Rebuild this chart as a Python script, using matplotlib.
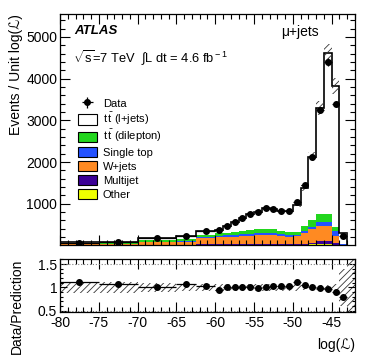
import matplotlib
matplotlib.use("Agg")
import matplotlib.pyplot as plt
import numpy as np
from matplotlib.ticker import MultipleLocator, FixedLocator, FuncFormatter
from matplotlib.patches import Rectangle
from matplotlib.legend_handler import HandlerPatch

plt.rcParams['font.family'] = ['Liberation Sans', 'DejaVu Sans']
plt.rcParams['hatch.linewidth'] = 0.6
plt.rcParams['axes.unicode_minus'] = False
plt.rcParams['mathtext.fontset'] = 'custom'
plt.rcParams['mathtext.rm'] = 'Liberation Sans'

# bin edges of log(L)
edges = [-80, -75, -70, -65, -62.5, -60, -59, -58, -57, -56, -55, -54, -53, -52,
         -51, -50, -49, -48, -47, -46, -45, -44, -43]

# data, events per unit log(L)
data = [65, 90, 185, 225, 355, 360, 475, 560, 655, 750, 800, 890, 880, 835,
        830, 1040, 1455, 2117, 3250, 4404, 3385, 235]

# stack components (events per unit log(L))
other = [8, 8, 10, 12, 15, 15, 15, 16, 16, 17, 17, 17, 17, 17, 17, 18, 20, 22, 25, 25, 20, 5]
multijet = [4, 4, 5, 6, 7, 7, 7, 8, 8, 9, 9, 9, 9, 9, 9, 10, 15, 38, 70, 70, 30, 5]
wjets = [20, 25, 60, 72, 158, 168, 178, 186, 201, 209, 214, 219, 214, 199, 184, 187, 265, 335, 362, 362, 168, 10]
singletop = [5, 6, 15, 15, 23, 35, 40, 40, 40, 45, 50, 50, 50, 45, 45, 40, 54, 48, 113, 113, 119, 10]
dilepton = [10, 12, 45, 50, 55, 65, 65, 70, 80, 85, 95, 100, 95, 85, 75, 65, 120, 157, 190, 190, 106, 10]
ljets = [28, 35, 45, 70, 87, 90, 170, 240, 310, 385, 415, 495, 495, 480, 485, 640, 909, 1530, 2540, 3845, 3380, 260]
# relative uncertainty on the prediction (main panel)
pred_unc = [0.05] * 22

# ratio panel
ratio = [1.12, 1.08, 1.01, 1.08, 1.04, 0.94, 1.0, 1.0, 1.0, 1.0, 0.98, 1.01, 1.04, 1.04,
         1.04, 1.12, 1.06, 1.0, 0.99, 0.97, 0.89, 0.80]
ratio_err = [0.07, 0.04, 0.03, 0.02, 0.02, 0.02, 0.02, 0.02, 0.02, 0.02, 0.02, 0.02, 0.02,
             0.02, 0.02, 0.02, 0.02, 0.02, 0.02, 0.02, 0.02, 0.03]
band_edges = edges + [-42]
band = [0.12, 0.12, 0.1, 0.08, 0.08, 0.08, 0.08, 0.08, 0.08, 0.08, 0.08, 0.08, 0.08, 0.08,
        0.08, 0.07, 0.06, 0.06, 0.06, 0.055, 0.08, 0.4, 1.5]

tt = r"t$\,\bar{\rm t}$"
names = ["Other", "Multijet", "W+jets", "Single top", tt + " (dilepton)", tt + " (l+jets)"]
colors = ["#eeff00", "#3b0096", "#ff8a22", "#2452ff", "#22d61e", "white"]

edges = np.array(edges)
centers = 0.5 * (edges[:-1] + edges[1:])
halfw = 0.5 * np.diff(edges)
comps = [np.array(c, float) for c in (other, multijet, wjets, singletop, dilepton, ljets)]
total = np.sum(comps, axis=0)
data = np.array(data, float)
ratio = np.array(ratio)
ratio_err = np.array(ratio_err)


def small_box(legend, orig_handle, xdescent, ydescent, width, height, fontsize):
    h = 0.8 * height
    return Rectangle((-xdescent, -ydescent + 0.5 * (height - h)), width, h)


fig = plt.figure(figsize=(3.74, 3.63), dpi=100)
ax = fig.add_axes([60 / 374, 118 / 363, 295 / 374, 231 / 363])
rx = fig.add_axes([60 / 374, 51 / 363, 295 / 374, 53 / 363])

bottom = np.zeros(len(total))
handles = []
for c, name, col in zip(comps, names, colors):
    ax.stairs(bottom + c, edges, baseline=bottom, fill=True, color=col, lw=0)
    handles.append(Rectangle((0, 0), 1, 1, fc=col, ec='black', lw=0.8))
    bottom = bottom + c
ax.stairs(total, edges, baseline=0, color='black', lw=1.2)

bh = total * np.array(pred_unc)
ax.bar(centers, 2 * bh, width=np.diff(edges), bottom=total - bh, fill=False, lw=0,
       hatch='/////', edgecolor='#333333')

dh = ax.errorbar(centers, data, yerr=data * ratio_err / ratio, xerr=halfw, fmt='o', color='black',
                 ms=4, lw=0.9, capsize=0)

leg = ax.legend([dh] + handles[::-1], ['Data'] + names[::-1], loc='upper left',
                bbox_to_anchor=(0.06, 0.64), frameon=False, fontsize=8, handlelength=1.75,
                handleheight=1.4, labelspacing=0.1, borderaxespad=0.0, handletextpad=0.5,
                borderpad=0.0, handler_map={Rectangle: HandlerPatch(patch_func=small_box)})

ax.set_xlim(-80, -42)
ax.set_ylim(10, 5550)
ax.yaxis.set_major_locator(FixedLocator([1000, 2000, 3000, 4000, 5000]))
ax.yaxis.set_minor_locator(MultipleLocator(200))
ax.xaxis.set_major_locator(MultipleLocator(5))
ax.xaxis.set_minor_locator(MultipleLocator(1))
ax.tick_params(labelbottom=False)
ax.set_ylabel("Events / Unit log(ℒ)", fontsize=10, loc='top', labelpad=2)

ax.text(0.05, 0.925, "ATLAS", transform=ax.transAxes, fontsize=9.5, fontweight='bold',
        fontstyle='italic', va='center')
ax.text(0.045, 0.81, r"$\sqrt{\rm s}$=7 TeV  $\int$L dt = 4.6 fb$^{\rm -1}$", transform=ax.transAxes,
        fontsize=9.3, va='center')
ax.text(0.75, 0.92, "μ+jets", transform=ax.transAxes, fontsize=10, va='center')

# ratio panel
bedges = np.array(band_edges)
bc = 0.5 * (bedges[:-1] + bedges[1:])
rx.bar(bc, 2 * np.array(band), width=np.diff(bedges), bottom=1 - np.array(band), fill=False, lw=0,
       hatch='/////', edgecolor='#333333')
rx.axhline(1.5, color='gray', ls=':', lw=0.8)
rx.axhline(0.5, color='gray', ls=':', lw=0.8)
rx.errorbar(centers, ratio, yerr=ratio_err, xerr=halfw, fmt='o', color='black', ms=4, lw=0.9, capsize=0)
rx.set_xlim(-80, -42)
rx.set_ylim(0.47, 1.61)
rx.xaxis.set_major_locator(MultipleLocator(5))
rx.xaxis.set_minor_locator(MultipleLocator(1))
rx.yaxis.set_major_locator(FixedLocator([0.5, 1.0, 1.5]))
rx.yaxis.set_minor_locator(MultipleLocator(0.1))
rx.yaxis.set_major_formatter(FuncFormatter(lambda v, p: "%g" % v))
rx.set_xlabel("log(ℒ)", fontsize=10, loc='right', labelpad=6)

for a in (ax, rx):
    a.tick_params(which='both', direction='in', top=True, right=True, labelsize=10, pad=2)
    a.tick_params(which='major', length=7, width=0.8)
    a.tick_params(which='minor', length=3.5, width=0.8)
    for s in a.spines.values():
        s.set_linewidth(0.9)
rx.tick_params(which='major', axis='y', length=5)
rx.tick_params(which='minor', axis='y', length=2.5)
rx.tick_params(axis='x', pad=3)

fig.text(17 / 374, 1 - 306 / 363, "Data/Prediction", rotation=90, fontsize=10, ha='center', va='center')

fig.savefig("out.png", dpi=100)
